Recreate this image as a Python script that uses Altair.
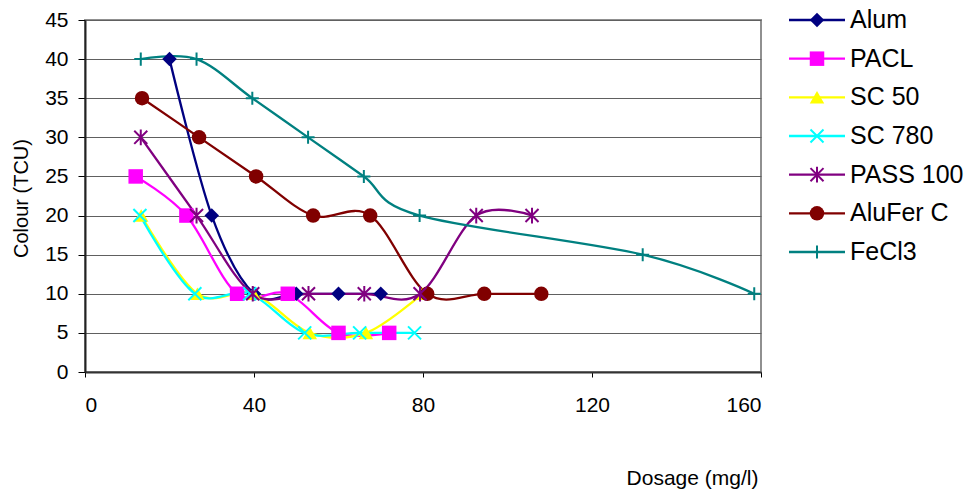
import altair as alt
import pandas as pd

series = ["Alum", "PACL", "SC 50", "SC 780", "PASS 100", "AluFer C", "FeCl3"]
colors = ["#000080", "#FF00FF", "#FFFF00", "#00FFFF", "#800080", "#800000", "#008080"]
shapes = [
    "diamond",
    "square",
    "triangle-up",
    "M-1,-1L1,1M-1,1L1,-1",
    "M-1,-1L1,1M-1,1L1,-1M0,-1.2L0,1.2",
    "circle",
    "M-1,0L1,0M0,-1L0,1",
]
filled_series = ["Alum", "PACL", "SC 50", "AluFer C"]
stroked_series = ["SC 780", "PASS 100", "FeCl3"]

alum_x = [20, 30, 40, 50, 60, 70]
alum_y = [40, 20, 10, 10, 10, 10]
pacl_x = [12, 24, 36, 48, 60, 72]
pacl_y = [25, 20, 10, 10, 5, 5]
sc50_x = [13.3, 26.6, 39.9, 53.2, 66.5, 79.8]
sc50_y = [20, 10, 10, 5, 5, 10]
sc780_x = [13, 26, 39, 52, 65, 78]
sc780_y = [20, 10, 10, 5, 5, 5]
pass_x = [13.2, 26.4, 39.7, 52.9, 66.1, 79.3, 92.6, 105.8]
pass_y = [30, 20, 10, 10, 10, 10, 20, 20]
alufer_x = [13.5, 27, 40.5, 54, 67.5, 81, 94.5, 108]
alufer_y = [35, 30, 25, 20, 20, 10, 10, 10]
fecl3_x = [13.2, 26.4, 39.6, 52.8, 66, 79.2, 132, 158.4]
fecl3_y = [40, 40, 35, 30, 25, 20, 15, 10]

x_ticks = [0, 40, 80, 120, 160]
y_ticks = [0, 5, 10, 15, 20, 25, 30, 35, 40, 45]

xs = [alum_x, pacl_x, sc50_x, sc780_x, pass_x, alufer_x, fecl3_x]
ys = [alum_y, pacl_y, sc50_y, sc780_y, pass_y, alufer_y, fecl3_y]

rows = []
for i, (s, xv, yv) in enumerate(zip(series, xs, ys)):
    for a, b in zip(xv, yv):
        rows.append({"series": s, "order": i, "dose": a, "colour": b})
df = pd.DataFrame(rows)
leg_df = pd.DataFrame({"series": series, "order": list(range(len(series)))})

FONT = "Liberation Sans"

color_enc = alt.Color("series:N", scale=alt.Scale(domain=series, range=colors), legend=None)
shape_enc = alt.Shape("series:N", scale=alt.Scale(domain=series, range=shapes), legend=None)

x_axis = alt.Axis(
    values=x_ticks, grid=False, title="Dosage (mg/l)",
    titleX=607, titleY=106, titleAlign="center", titleBaseline="middle",
    titleFontSize=21, titleFontWeight="normal", titleColor="#000000",
    labelFontSize=21, labelColor="#000000", labelPadding=17, tickSize=5,
    tickColor="#000000", domainColor="#333333", domainWidth=2,
    labelOverlap=False, labelFont=FONT, titleFont=FONT,
)
y_axis = alt.Axis(
    values=y_ticks, grid=True,
    gridColor="#606060", gridWidth=1.2, title="Colour (TCU)",
    titleX=-64, titleY=178, titleAlign="center", titleBaseline="middle",
    titleAngle=270, titleFontSize=20, titleFontWeight="normal", titleColor="#000000",
    labelFontSize=21, labelColor="#000000", labelPadding=10, tickSize=7,
    tickColor="#000000", domainColor="#222222", domainWidth=2,
    labelOverlap=False, labelFont=FONT, titleFont=FONT,
)
x_scale = alt.Scale(domain=[0, 160], nice=False)
y_scale = alt.Scale(domain=[0, 45], nice=False)

base = alt.Chart(df)
lines = base.mark_line(interpolate="cardinal", strokeWidth=2.3).encode(
    x=alt.X("dose:Q", scale=x_scale, axis=x_axis),
    y=alt.Y("colour:Q", scale=y_scale, axis=y_axis),
    color=color_enc, detail="series:N", order="dose:Q",
)
pts_f = base.transform_filter(
    alt.FieldOneOfPredicate(field="series", oneOf=filled_series)
).mark_point(filled=True, size=210, opacity=1).encode(
    x=alt.X("dose:Q", scale=x_scale, axis=x_axis),
    y=alt.Y("colour:Q", scale=y_scale, axis=None),
    color=color_enc, shape=shape_enc,
)
pts_s = base.transform_filter(
    alt.FieldOneOfPredicate(field="series", oneOf=stroked_series)
).mark_point(filled=False, size=170, strokeWidth=2, opacity=1).encode(
    x=alt.X("dose:Q", scale=x_scale, axis=x_axis),
    y=alt.Y("colour:Q", scale=y_scale, axis=None),
    color=color_enc, shape=shape_enc,
)

leg_y = alt.Y("series:N", scale=alt.Scale(type="point", domain=series, range=[0, 232], padding=0), axis=None)
lbase = alt.Chart(leg_df)
leg_rule = lbase.mark_rule(strokeWidth=2.3).encode(
    x=alt.value(704), x2=alt.value(760), y=leg_y, color=color_enc
)
leg_pf = lbase.transform_filter(
    alt.FieldOneOfPredicate(field="series", oneOf=filled_series)
).mark_point(filled=True, size=210, opacity=1).encode(
    x=alt.value(732), y=leg_y, color=color_enc, shape=shape_enc
)
leg_ps = lbase.transform_filter(
    alt.FieldOneOfPredicate(field="series", oneOf=stroked_series)
).mark_point(filled=False, size=170, strokeWidth=2, opacity=1).encode(
    x=alt.value(732), y=leg_y, color=color_enc, shape=shape_enc
)
leg_text = lbase.mark_text(
    align="left", baseline="middle", fontSize=25, font=FONT, color="#000000"
).encode(x=alt.value(765), y=leg_y, text="series:N")

chart = alt.layer(
    lines, pts_f, pts_s, leg_rule, leg_pf, leg_ps, leg_text
).resolve_scale(y="independent").properties(
    width=676,
    height=352,
    autosize=alt.AutoSizeParams(type="none"),
    padding={"left": 85, "top": 20, "right": 212, "bottom": 121},
    background="#FFFFFF",
).configure_view(
    stroke="#909090", strokeWidth=2
).configure_axis(
    labelFont=FONT, titleFont=FONT
)

chart.save("out.html", embed_options={"renderer": "svg", "actions": False})
